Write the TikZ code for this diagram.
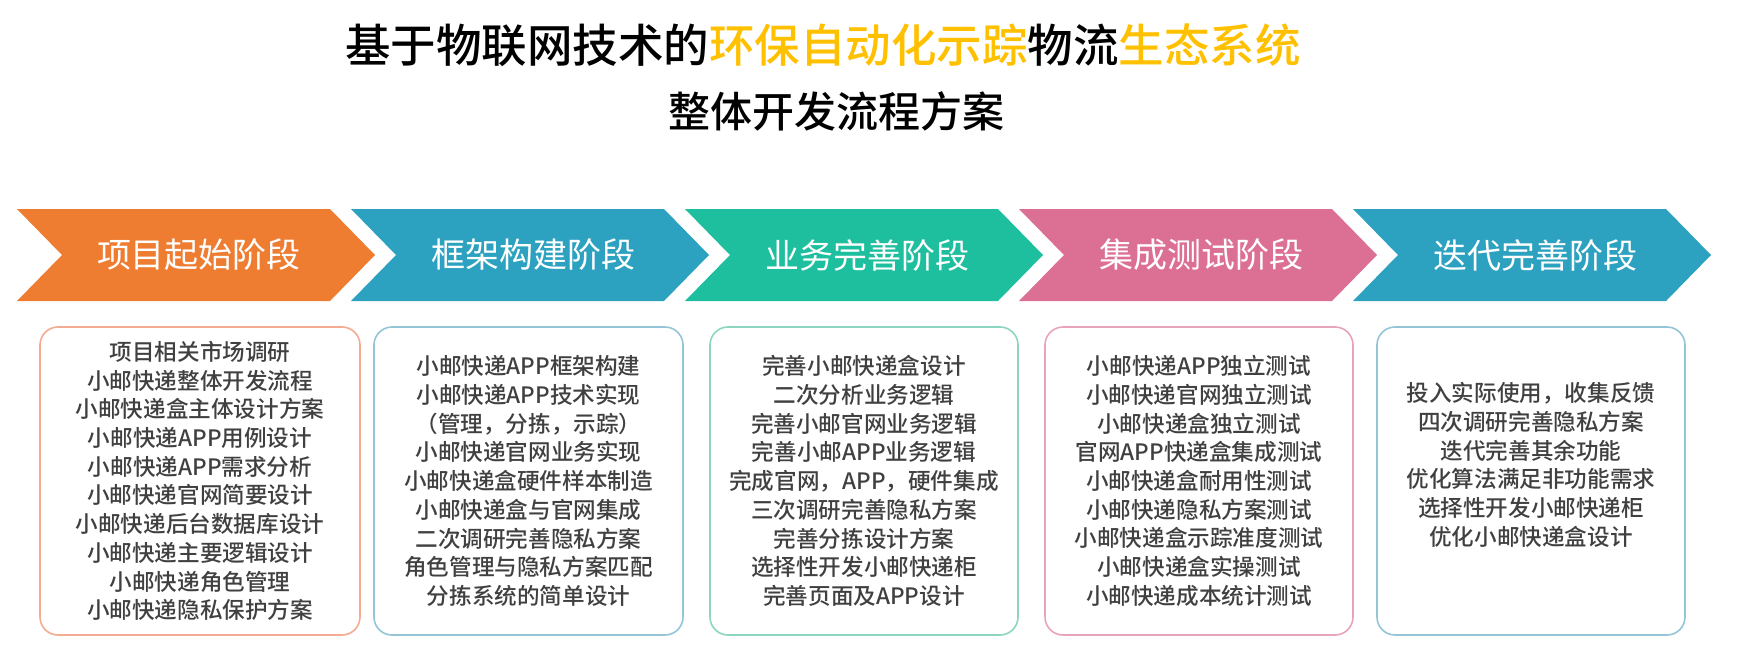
\documentclass[tikz,border=0pt]{standalone}
\usepackage{fontspec}
\setmainfont{Noto Sans CJK SC}
\newfontfamily\medfont{Noto Sans CJK SC Medium}
\definecolor{cOr}{HTML}{EE7D31}
\definecolor{cBl}{HTML}{2CA2C0}
\definecolor{cGr}{HTML}{1DBF9E}
\definecolor{cPk}{HTML}{DC7094}
\definecolor{bOr}{HTML}{F3AC92}
\definecolor{bBl}{HTML}{93C5D6}
\definecolor{bGr}{HTML}{8CD5C0}
\definecolor{bPk}{HTML}{E7A3BA}
\definecolor{gold}{HTML}{FFC000}
\definecolor{txt}{HTML}{404040}
\tikzset{
  phase/.style={text=white, font=\fontsize{17pt}{20pt}\selectfont, inner sep=0pt},
  panel/.style={draw=#1, line width=0.8pt, rounded corners=9pt, minimum height=154pt, inner sep=0pt},
  items/.style={text=txt, align=center, font=\fontsize{11.3pt}{14.35pt}\medfont, inner sep=0pt},
  titletext/.style={text=black, inner sep=0pt}
}
\begin{document}
\begin{tikzpicture}[x=0.5pt,y=-0.5pt]
\useasboundingbox (0,0) rectangle (1747,648);
% title
\node[titletext, font=\fontsize{22.75pt}{26pt}\medfont] (t1) at (823,45) {基于物联网技术的\textcolor{gold}{环保自动化示踪}物流\textcolor{gold}{生态系统}};
\node[titletext, font=\fontsize{21pt}{24pt}\medfont] (t2) at (836,111) {整体开发流程方案};
% chevrons
\foreach \i/\c/\t in {0/cOr/项目起始阶段, 1/cBl/框架构建阶段, 2/cGr/业务完善阶段, 3/cPk/集成测试阶段, 4/cBl/迭代完善阶段}{
  \fill[\c] ({17+334*\i},209) -- ++(313,0) -- ++(45,46) -- ++(-45,46) -- ++(-313,0) -- ++(45,-46) -- cycle;
  \node[phase] (p\i) at ({17+334*\i+182},255) {\t};
}
% panels
\node[panel=bOr, minimum width=160pt] (b1) at (200,481) {};
\node[panel=bBl, minimum width=154.5pt] (b2) at (528.5,481) {};
\node[panel=bGr, minimum width=154pt] (b3) at (864,481) {};
\node[panel=bPk, minimum width=154pt] (b4) at (1199,481) {};
\node[panel=bBl, minimum width=154pt] (b5) at (1531,481) {};
% texts
\node[items] (l1) at (b1.center) {项目相关市场调研\\小邮快递整体开发流程\\小邮快递盒主体设计方案\\小邮快递APP用例设计\\小邮快递APP需求分析\\小邮快递官网简要设计\\小邮快递后台数据库设计\\小邮快递主要逻辑设计\\小邮快递角色管理\\小邮快递隐私保护方案};
\node[items] (l2) at (b2.center) {小邮快递APP框架构建\\小邮快递APP技术实现\\（管理，分拣，示踪）\\小邮快递官网业务实现\\小邮快递盒硬件样本制造\\小邮快递盒与官网集成\\二次调研完善隐私方案\\角色管理与隐私方案匹配\\分拣系统的简单设计};
\node[items] (l3) at (b3.center) {完善小邮快递盒设计\\二次分析业务逻辑\\完善小邮官网业务逻辑\\完善小邮APP业务逻辑\\完成官网，APP，硬件集成\\三次调研完善隐私方案\\完善分拣设计方案\\选择性开发小邮快递柜\\完善页面及APP设计};
\node[items] (l4) at (b4.center) {小邮快递APP独立测试\\小邮快递官网独立测试\\小邮快递盒独立测试\\官网APP快递盒集成测试\\小邮快递盒耐用性测试\\小邮快递隐私方案测试\\小邮快递盒示踪准度测试\\小邮快递盒实操测试\\小邮快递成本统计测试};
\node[items] (l5) at (1531,465) {投入实际使用，收集反馈\\四次调研完善隐私方案\\迭代完善其余功能\\优化算法满足非功能需求\\选择性开发小邮快递柜\\优化小邮快递盒设计};
\end{tikzpicture}
\end{document}
